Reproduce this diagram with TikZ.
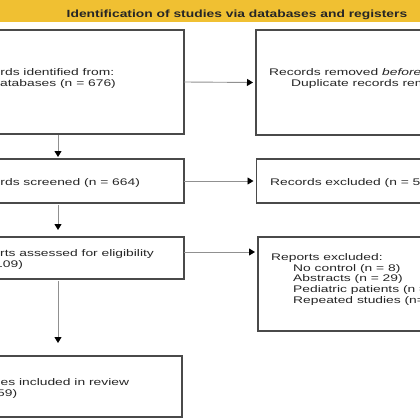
\documentclass[tikz,border=0pt]{standalone}
\usepackage{fontspec}
\setmainfont{Liberation Sans}
\usetikzlibrary{arrows.meta}
\definecolor{banneryellow}{HTML}{F0C032}
\definecolor{boxline}{HTML}{4A4A4A}
\definecolor{arrowline}{HTML}{909090}
\definecolor{txt}{HTML}{262626}
\newcommand{\stretchtxt}[1]{\scalebox{1.44}[1]{\begin{tabular}[t]{@{}l@{}}#1\end{tabular}}}
\newcommand{\ind}{\hspace*{15.3pt}}
\begin{document}
\begin{tikzpicture}[x=1pt,y=-1pt,
  box/.style={draw=boxline, line width=1.3pt, anchor=north west, inner sep=0pt, outer sep=0pt, fill=white},
  lbl/.style={anchor=base west, inner sep=0pt, text=txt, font=\fontsize{9.6}{10.8}\selectfont},
  ttl/.style={anchor=base, inner sep=0pt, text=black!85, font=\fontsize{10.4}{12}\selectfont\bfseries},
  arr/.style={draw=arrowline, line width=0.9pt, -{Triangle[length=6pt,width=7pt,color=black]}}]
\useasboundingbox (0,0) rectangle (420,420);
\clip (0,0) rectangle (420,420);
\fill[banneryellow] (-10,-10) rectangle (430,22.5);
\node[ttl] (title) at (237,17.5) {\scalebox{1.33}[1]{Identification of studies via databases and registers}};

\node[box, minimum width=252pt, minimum height=104pt] (ident) at (-68,30) {};
\node[box, minimum width=250pt, minimum height=105pt] (removed) at (256,30) {};
\node[box, minimum width=252pt, minimum height=44pt] (screened) at (-68,159) {};
\node[box, minimum width=250pt, minimum height=44pt] (excluded) at (256.5,159) {};
\node[box, minimum width=252pt, minimum height=42pt] (assessed) at (-68,237) {};
\node[box, minimum width=250pt, minimum height=94pt] (rexcluded) at (258,237) {};
\node[box, minimum width=250pt, minimum height=61pt] (included) at (-68,356) {};

\node[lbl] (identtxt) at (-32,75.5) {\stretchtxt{Records identified from:\\ \ind Databases (n = 676)}};
\node[lbl] (removedtxt) at (269,75.5) {\stretchtxt{Records removed \textit{before screening}:\\ \ind Duplicate records removed (n = 12)}};
\node[lbl] (screenedtxt) at (-32,185.5) {\stretchtxt{Records screened (n = 664)}};
\node[lbl] (excludedtxt) at (270,185.5) {\stretchtxt{Records excluded (n = 555)}};
\node[lbl] (assessedtxt) at (-33,256.2) {\stretchtxt{Reports assessed for eligibility\\ (n = 109)}};
\node[lbl] (rexcludedtxt) at (271,260.2) {\stretchtxt{Reports excluded:\\ \ind No control (n = 8)\\ \ind Abstracts (n = 29)\\ \ind Pediatric patients (n = \\ \ind Repeated studies (n=}};
\node[lbl] (includedtxt) at (-31,385.2) {\stretchtxt{Studies included in review\\ (n = 59)}};

\draw[arr, shorten >=3pt] (ident.east) -- (removed.west);
\draw[arr, shorten >=3pt] (screened.east) -- (excluded.west);
\draw[arr, shorten >=3pt] ([yshift=6pt]assessed.east) -- ([yshift=6pt]assessed.east -| rexcluded.west);
\draw[arr, shorten <=1pt, shorten >=2pt] (ident.south) -- (screened.north);
\draw[arr, shorten <=2pt, shorten >=7pt] (screened.south) -- (assessed.north);
\draw[arr, shorten <=2pt, shorten >=13pt] (assessed.south) -- (assessed.south |- included.north);
\end{tikzpicture}
\end{document}
